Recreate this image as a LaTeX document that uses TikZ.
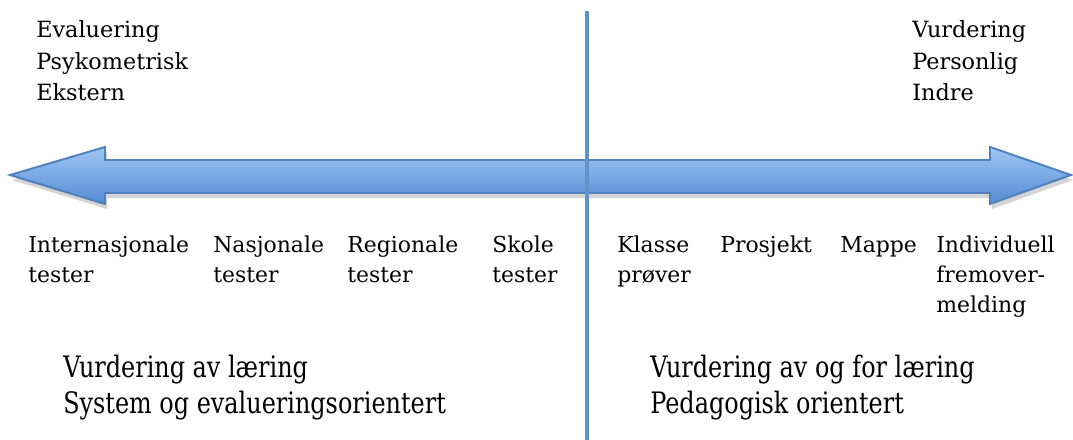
\documentclass[tikz,border=0pt]{standalone}
\usepackage{fontspec}
\setmainfont{DejaVu Serif}
\newfontfamily\narrowserif[FakeStretch=0.81]{DejaVu Serif}
\definecolor{mblue}{RGB}{79,129,189}
\definecolor{mline}{RGB}{99,146,203}
\definecolor{mlight}{RGB}{160,198,243}
\definecolor{mdark}{RGB}{84,140,213}
\definecolor{mshadow}{RGB}{212,212,212}
\tikzset{
  headtext/.style={anchor=base west, align=left, inner sep=0pt, font=\fontsize{15.9}{22.5}\selectfont},
  testlabel/.style={anchor=base west, align=left, inner sep=0pt, font=\fontsize{15.6}{21.3}\selectfont},
  foottext/.style={anchor=base west, align=left, inner sep=0pt, font=\narrowserif\fontsize{21}{24.9}\selectfont}
}
\begin{document}
\begin{tikzpicture}[x=0.025cm, y=-0.025cm]
      \useasboundingbox (0, 0) rectangle (1073, 440);
      % double arrow with its shadow
      \fill [mshadow, shift={(2, 5)}] (10, 175) -- (105, 147) -- (105, 160) -- (990, 160) -- (990, 147) -- (1071, 175)
        -- (990, 204) -- (990, 193) -- (105, 193) -- (105, 204) -- cycle;
      \shade [top color=mlight, bottom color=mdark, draw=mblue, line width=1.4pt, line join=miter]
        (10, 175) -- (105, 147) -- (105, 160) -- (990, 160) -- (990, 147) -- (1071, 175)
        -- (990, 204) -- (990, 193) -- (105, 193) -- (105, 204) -- cycle;

      \coordinate (divtop) at (587, 11);
      \coordinate (divbot) at (587, 440);
      \draw [mline, line width=2.8pt] (divtop) -- (divbot);

      % base west is the baseline of the last line
      \node [headtext] (evaluering) at (36, 101) {Evaluering\\Psykometrisk\\Ekstern};
      \node [headtext] (vurdering) at (912, 101) {Vurdering\\Personlig\\Indre};

      \node [testlabel] (internasjonale) at (28, 282) {Internasjonale\\tester};
      \node [testlabel] (nasjonale) at (213, 282) {Nasjonale\\tester};
      \node [testlabel] (regionale) at (347, 282) {Regionale\\tester};
      \node [testlabel] (skole) at (492, 282) {Skole\\tester};
      \node [testlabel] (klasse) at (617, 282) {Klasse\\prøver};
      \node [testlabel] (prosjekt) at (720, 252) {Prosjekt};
      \node [testlabel] (mappe) at (840, 252) {Mappe};
      \node [testlabel] (individuell) at (936, 312) {Individuell\\fremover-\\melding};

      \node [foottext] (avlaering) at (63, 413) {Vurdering av læring\\System og evalueringsorientert};
      \node [foottext] (forlaering) at (650, 413) {Vurdering av og for læring\\Pedagogisk orientert};
    \end{tikzpicture}
\end{document}
